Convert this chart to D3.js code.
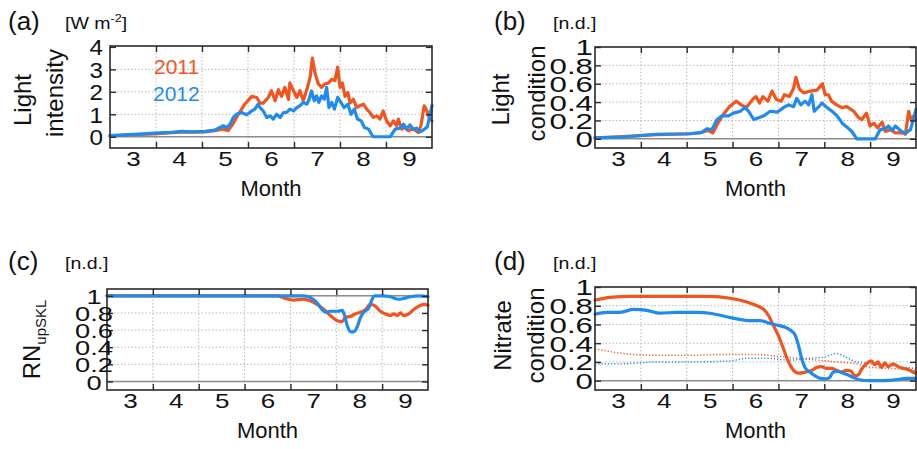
<!DOCTYPE html>
<html><head><meta charset="utf-8">
<script src="https://cdn.jsdelivr.net/npm/d3@7"></script>
<style>
body{margin:0;background:#fff}
svg{display:block}
text{font-family:"Liberation Sans",Arial,Helvetica,sans-serif;fill:#111}
</style>
</head><body>
<svg id="chart" width="917" height="449"></svg>
<script>
// ---------- data (x = fractional month, 3.0 = 1 March) ----------
const monthLabels = [3, 4, 5, 6, 7, 8, 9];
const monthBounds = [4, 5, 6, 7, 8, 9];
const years = ["2011", "2012"];

const lightIntensity2011 = [[3.00,0.04],[3.62,0.1],[3.98,0.13],[4.34,0.18],[4.56,0.2],[4.78,0.2],[5.07,0.22],[5.28,0.27],[5.46,0.35],[5.57,0.27],[5.68,0.6],[5.79,1.0],[5.93,1.45],[6.08,1.8],[6.19,1.75],[6.26,1.5],[6.33,1.5],[6.44,1.75],[6.51,2.05],[6.59,1.6],[6.66,2.1],[6.73,1.8],[6.80,2.2],[6.88,1.67],[6.91,2.4],[6.99,2.05],[7.06,1.75],[7.13,2.05],[7.20,1.6],[7.28,2.1],[7.35,2.64],[7.40,3.5],[7.46,2.8],[7.53,2.35],[7.60,2.2],[7.67,2.35],[7.75,2.4],[7.82,2.55],[7.89,2.5],[7.95,3.1],[8.00,2.2],[8.05,2.4],[8.11,1.8],[8.17,1.97],[8.22,1.5],[8.29,1.67],[8.36,1.3],[8.43,1.38],[8.51,1.45],[8.58,1.23],[8.65,1.08],[8.72,0.86],[8.80,0.93],[8.87,0.79],[8.94,1.15],[9.01,0.71],[9.09,0.49],[9.16,0.71],[9.23,0.49],[9.27,0.79],[9.34,0.34],[9.41,0.41],[9.49,0.27],[9.56,0.34],[9.63,0.3],[9.70,0.19],[9.76,0.5],[9.83,1.38],[9.88,1.2],[9.94,0.85],[10.0,0.7]];
const lightIntensity2012 = [[3.00,0.05],[3.62,0.12],[3.98,0.16],[4.34,0.2],[4.56,0.24],[4.78,0.22],[5.07,0.24],[5.28,0.3],[5.39,0.41],[5.46,0.49],[5.54,0.41],[5.61,0.56],[5.68,0.86],[5.75,1.0],[5.86,1.08],[5.97,0.98],[6.08,1.15],[6.15,1.23],[6.22,1.45],[6.26,1.3],[6.33,1.15],[6.41,0.86],[6.48,0.93],[6.55,0.79],[6.62,1.0],[6.70,0.86],[6.77,1.08],[6.84,1.08],[6.91,1.23],[6.99,1.15],[7.06,1.3],[7.13,1.38],[7.20,1.53],[7.28,1.45],[7.33,1.67],[7.38,2.04],[7.44,1.6],[7.49,1.82],[7.54,1.53],[7.60,1.82],[7.66,1.67],[7.71,2.2],[7.76,1.3],[7.82,1.53],[7.88,1.23],[7.95,1.75],[8.02,1.53],[8.09,1.3],[8.17,1.45],[8.24,1.0],[8.31,1.23],[8.38,0.79],[8.46,0.71],[8.53,0.41],[8.62,0.34],[8.72,0.0],[9.09,0.0],[9.20,0.34],[9.30,0.38],[9.38,0.56],[9.45,0.34],[9.52,0.53],[9.59,0.34],[9.67,0.38],[9.74,0.22],[9.81,0.3],[9.90,0.45],[10.0,1.4]];

const lightCond2011 = [[3.00,0.01],[3.62,0.025],[3.98,0.035],[4.34,0.045],[4.78,0.05],[5.07,0.055],[5.28,0.065],[5.46,0.09],[5.57,0.065],[5.68,0.17],[5.79,0.26],[5.93,0.35],[6.08,0.41],[6.19,0.37],[6.30,0.34],[6.44,0.43],[6.51,0.46],[6.59,0.39],[6.66,0.46],[6.77,0.41],[6.86,0.52],[6.95,0.43],[7.06,0.41],[7.13,0.48],[7.24,0.46],[7.33,0.55],[7.38,0.67],[7.46,0.54],[7.55,0.5],[7.70,0.52],[7.84,0.53],[7.96,0.6],[8.02,0.48],[8.09,0.48],[8.16,0.41],[8.27,0.37],[8.38,0.34],[8.49,0.35],[8.64,0.3],[8.75,0.23],[8.82,0.21],[8.92,0.28],[9.00,0.14],[9.08,0.17],[9.16,0.12],[9.26,0.18],[9.33,0.08],[9.44,0.1],[9.55,0.065],[9.70,0.065],[9.77,0.05],[9.84,0.3],[9.89,0.21],[9.95,0.25],[10.0,0.2]];
const lightCond2012 = [[3.00,0.01],[3.62,0.02],[4.34,0.05],[5.07,0.055],[5.33,0.07],[5.44,0.11],[5.55,0.1],[5.66,0.21],[5.77,0.25],[5.91,0.25],[6.02,0.28],[6.17,0.3],[6.27,0.34],[6.35,0.3],[6.46,0.21],[6.57,0.23],[6.68,0.25],[6.82,0.3],[6.97,0.29],[7.11,0.34],[7.22,0.37],[7.33,0.35],[7.40,0.44],[7.49,0.37],[7.58,0.41],[7.66,0.37],[7.73,0.48],[7.78,0.3],[7.88,0.35],[7.95,0.39],[8.06,0.34],[8.17,0.3],[8.28,0.25],[8.39,0.17],[8.49,0.13],[8.60,0.08],[8.71,0.0],[9.11,0.0],[9.22,0.1],[9.33,0.11],[9.40,0.14],[9.48,0.09],[9.55,0.14],[9.66,0.09],[9.77,0.06],[9.88,0.1],[10.0,0.32]];

const rnUpSKL2011 = [[3.00,1.0],[6.71,1.0],[6.89,0.97],[7.07,0.95],[7.29,0.96],[7.44,0.94],[7.58,0.9],[7.73,0.84],[7.87,0.77],[8.02,0.71],[8.13,0.70],[8.20,0.75],[8.31,0.76],[8.42,0.79],[8.53,0.81],[8.64,0.84],[8.74,0.9],[8.85,0.88],[8.96,0.82],[9.07,0.79],[9.18,0.77],[9.25,0.79],[9.33,0.77],[9.40,0.8],[9.47,0.77],[9.58,0.79],[9.69,0.84],[9.80,0.88],[9.91,0.9],[10.0,0.89]];
const rnUpSKL2012 = [[3.00,1.0],[7.29,1.0],[7.44,0.98],[7.58,0.92],[7.69,0.84],[7.76,0.81],[7.87,0.82],[8.02,0.82],[8.13,0.83],[8.18,0.77],[8.24,0.65],[8.31,0.58],[8.38,0.58],[8.45,0.63],[8.53,0.75],[8.60,0.81],[8.71,0.86],[8.78,0.96],[8.83,1.0],[9.00,1.0],[9.18,0.99],[9.36,0.96],[9.47,0.97],[9.62,0.99],[9.80,1.0],[10.0,0.99]];

const nitrateCond2011 = [[3.00,0.86],[3.33,0.89],[3.76,0.9],[4.20,0.9],[4.64,0.9],[5.07,0.9],[5.51,0.9],[5.95,0.88],[6.31,0.84],[6.53,0.8],[6.68,0.76],[6.79,0.69],[6.89,0.59],[7.00,0.48],[7.11,0.34],[7.22,0.2],[7.33,0.11],[7.44,0.08],[7.58,0.09],[7.73,0.11],[7.83,0.14],[7.94,0.15],[8.05,0.13],[8.16,0.13],[8.27,0.11],[8.37,0.09],[8.48,0.11],[8.59,0.1],[8.66,0.05],[8.74,0.06],[8.81,0.12],[8.92,0.18],[9.03,0.21],[9.10,0.17],[9.17,0.2],[9.25,0.14],[9.32,0.19],[9.39,0.15],[9.50,0.18],[9.61,0.15],[9.72,0.13],[9.83,0.12],[9.94,0.09],[10.0,0.08]];
const nitrateCond2012 = [[3.00,0.71],[3.25,0.73],[3.55,0.73],[3.84,0.76],[4.13,0.75],[4.42,0.72],[4.78,0.73],[5.22,0.73],[5.51,0.72],[5.80,0.69],[6.09,0.66],[6.38,0.64],[6.60,0.64],[6.82,0.61],[7.00,0.59],[7.15,0.57],[7.26,0.54],[7.37,0.48],[7.44,0.37],[7.51,0.23],[7.58,0.14],[7.69,0.09],[7.80,0.05],[7.91,0.025],[8.05,0.02],[8.12,0.035],[8.19,0.09],[8.30,0.1],[8.41,0.08],[8.52,0.06],[8.63,0.035],[8.77,0.01],[8.99,0.0],[9.28,0.0],[9.57,0.01],[9.79,0.025],[10.0,0.025]];
const nitrateRef2011 = [[3.0,0.34],[3.62,0.29],[4.34,0.27],[5.07,0.27],[5.80,0.28],[6.53,0.28],[6.97,0.26],[7.40,0.24],[7.83,0.22],[8.27,0.2],[8.70,0.18],[9.06,0.14],[9.43,0.13],[9.79,0.12],[10.0,0.11]];
const nitrateRef2012 = [[3.0,0.18],[3.62,0.18],[4.34,0.2],[5.07,0.2],[5.95,0.21],[6.31,0.24],[6.68,0.24],[7.26,0.22],[7.69,0.24],[7.98,0.25],[8.27,0.29],[8.48,0.25],[8.70,0.2],[9.06,0.18],[9.43,0.16],[9.79,0.14],[10.0,0.13]];

const yTicksA = [0, 1, 2, 3, 4];
const yTicksN = [0, 0.2, 0.4, 0.6, 0.8, 1];

// ---------- drawing ----------
const C2011 = "#f1551d", C2012 = "#1f8bef";
const svg = d3.select("#chart");

const panels = [
  {letter:"(a)", unit:["[W m", "-2", "]"], title:["Light","intensity"], box:[110,432,46,148], yDom:[-0.5,4.04], yTicks:yTicksA, curve:d3.curveLinear,
   series:[{d:lightIntensity2011,c:C2011},{d:lightIntensity2012,c:C2012}], refs:[0], ylab:{x:103, anchor:"end", fs:22, sx:1.1}, lx:8, ux:65, titleX:[31,63], titleDy:[6,-1]},
  {letter:"(b)", unit:["[n.d.]"], title:["Light","condition"], box:[595,916,47,148], yDom:[-0.1,1.0], yTicks:yTicksN, curve:d3.curveLinear,
   series:[{d:lightCond2011,c:C2011},{d:lightCond2012,c:C2012}], refs:[0], ylab:{x:593, anchor:"end", fs:22, sx:1.42}, lx:494, ux:553, titleX:[509,545], titleDy:[5,-1]},
  {letter:"(c)", unit:["[n.d.]"], title:null, box:[107,428,289,390], yDom:[-0.1,1.08], yTicks:yTicksN, curve:d3.curveMonotoneX,
   series:[{d:rnUpSKL2011,c:C2011},{d:rnUpSKL2012,c:C2012}], refs:[0,1], ylab:{x:94, anchor:"middle", fs:21, sx:1.3}, lx:8, ux:65},
  {letter:"(d)", unit:["[n.d.]"], title:["Nitrate","condition"], box:[595,916,287,390], yDom:[-0.1,1.0], yTicks:yTicksN, curve:d3.curveMonotoneX,
   series:[{d:nitrateRef2011,c:C2011,dot:true},{d:nitrateRef2012,c:C2012,dot:true},{d:nitrateCond2011,c:C2011},{d:nitrateCond2012,c:C2012}], refs:[0], ylab:{x:593, anchor:"end", fs:22, sx:1.42}, lx:494, ux:553, titleX:[511,544], titleDy:[0,0]}
];

panels.forEach((p, i) => {
  const [L, R, T, B] = p.box;
  const x = d3.scaleLinear().domain([3, 10]).range([L, R]);
  const y = d3.scaleLinear().domain(p.yDom).range([B, T]);
  const g = svg.append("g");

  // grid (dotted)
  const grid = g.append("g").attr("stroke", "#b8b8b8").attr("stroke-width", 1).attr("stroke-dasharray", "1.5,2");
  grid.selectAll("line.v").data(monthBounds).join("line")
    .attr("x1", d => x(d)).attr("x2", d => x(d)).attr("y1", T).attr("y2", B);
  grid.selectAll("line.h").data(p.yTicks.filter(v => v > 0 && y(v) > T + 1)).join("line")
    .attr("x1", L).attr("x2", R).attr("y1", d => y(d)).attr("y2", d => y(d));

  // reference solid lines
  g.selectAll("line.ref").data(p.refs).join("line")
    .attr("x1", L).attr("x2", R).attr("y1", d => y(d)).attr("y2", d => y(d))
    .attr("stroke", "#8c8c8c").attr("stroke-width", 1.5);

  // series
  const line = d3.line().x(d => x(d[0])).y(d => y(d[1])).curve(p.curve);
  g.selectAll("path.s").data(p.series).join("path")
    .attr("d", s => line(s.d)).attr("fill", "none")
    .attr("stroke", s => s.c)
    .attr("stroke-width", s => s.dot ? 1.5 : 3.2)
    .attr("stroke-dasharray", s => s.dot ? "1.2,2" : null)
    .attr("stroke-linejoin", "round").attr("stroke-linecap", s => s.dot ? "butt" : "round");

  // frame
  g.append("rect").attr("x", L).attr("y", T).attr("width", R - L).attr("height", B - T)
    .attr("fill", "none").attr("stroke", "#2a2a2a").attr("stroke-width", 1.6);

  // tick marks (inward) via axes
  const tk = 6;
  g.append("g").attr("transform", `translate(0,${B})`)
    .call(d3.axisBottom(x).tickValues(monthBounds).tickSize(-tk).tickFormat(""))
    .call(a => a.select(".domain").remove());
  g.append("g").attr("transform", `translate(0,${T})`)
    .call(d3.axisTop(x).tickValues(monthBounds).tickSize(-tk).tickFormat(""))
    .call(a => a.select(".domain").remove());
  g.append("g").attr("transform", `translate(${L},0)`)
    .call(d3.axisLeft(y).tickValues(p.yTicks).tickSize(-tk).tickFormat(""))
    .call(a => a.select(".domain").remove());
  g.append("g").attr("transform", `translate(${R},0)`)
    .call(d3.axisRight(y).tickValues(p.yTicks).tickSize(-tk).tickFormat(""))
    .call(a => a.select(".domain").remove());
  g.selectAll(".tick line").attr("stroke", "#2a2a2a").attr("stroke-width", 1.4);

  // x labels (mid-month)
  const xl = g.append("g").attr("transform", `translate(0,${B + 4})`)
    .call(d3.axisBottom(x).tickValues(monthLabels.map(m => m + 0.5)).tickSize(0).tickFormat(d => String(d - 0.5)));
  xl.select(".domain").remove();
  xl.selectAll("text").attr("y", 0).attr("font-size", 20).attr("font-family", "Liberation Sans, Arial, sans-serif")
    .attr("fill", "#111").attr("dy", "0.71em").attr("transform", "scale(1.3,1)");

  // y labels
  const yl = g.append("g").attr("transform", `translate(${p.ylab.x},0)`)
    .call(d3.axisLeft(y).tickValues(p.yTicks).tickSize(0).tickFormat(d3.format("~g")));
  yl.select(".domain").remove();
  yl.selectAll("text").attr("x", 0).attr("font-size", p.ylab.fs).attr("font-family", "Liberation Sans, Arial, sans-serif")
    .attr("fill", "#111").attr("dy", "0.36em").attr("text-anchor", p.ylab.anchor)
    .attr("transform", `scale(${p.ylab.sx},1)`);

  // Month title
  g.append("text").attr("x", (L + R) / 2).attr("y", B + 48).attr("text-anchor", "middle")
    .attr("font-size", 22).text("Month");

  // panel letter + unit
  const base = i < 2 ? 30 : 270;
  g.append("text").attr("x", p.lx).attr("y", base).attr("font-size", 26).text(p.letter);
  const ut = g.append("text").attr("transform", `translate(${p.ux},${base - 1}) scale(1.15,1)`).attr("font-size", 17);
  ut.append("tspan").text(p.unit[0]);
  if (p.unit.length > 1) {
    ut.append("tspan").attr("font-size", 11).attr("dy", -7).text(p.unit[1]);
    ut.append("tspan").attr("dy", 7).text(p.unit[2]);
  }

  // y title (rotated)
  const cy = (T + B) / 2 - 3;
  if (p.title) {
    p.title.forEach((t, k) => {
      g.append("text").attr("transform", `translate(${p.titleX[k]},${cy + p.titleDy[k]}) rotate(-90)`)
        .attr("text-anchor", "middle").attr("font-size", 24).text(t);
    });
  } else {
    const t = g.append("text").attr("transform", `translate(40,${(T + B) / 2}) rotate(-90)`)
      .attr("text-anchor", "middle").attr("font-size", 24);
    t.append("tspan").text("RN");
    t.append("tspan").attr("font-size", 15).attr("dy", 6).text("upSKL");
  }

  // legend in (a)
  if (i === 0) {
    g.append("text").attr("x", 154).attr("y", 74).attr("font-size", 21).style("fill", C2011).text(years[0]);
    g.append("text").attr("x", 153).attr("y", 101).attr("font-size", 21).style("fill", C2012).text(years[1]);
  }
});
</script>
</body></html>
